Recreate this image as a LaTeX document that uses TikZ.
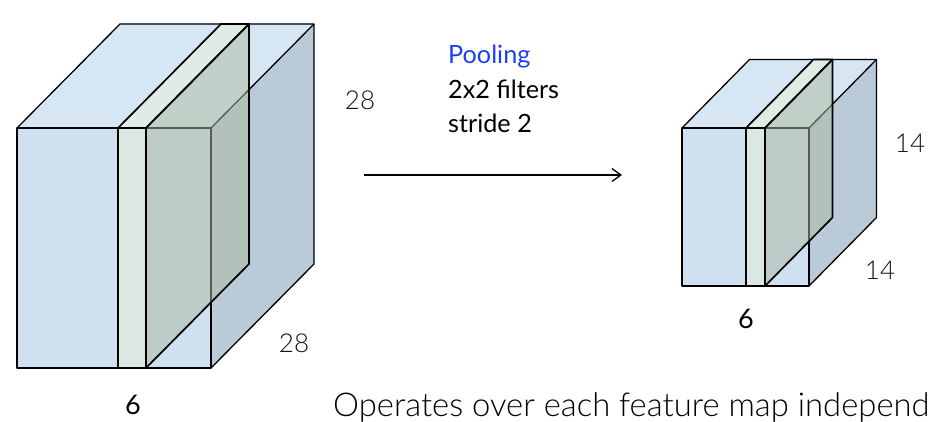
\documentclass[tikz,border=0pt]{standalone}
\usepackage{fontspec}
\setmainfont{Lato}
\newfontfamily\lightfont{Lato Light}
\usetikzlibrary{arrows.meta}
\definecolor{frontc}{RGB}{207,224,241}
\definecolor{topc}{RGB}{215,230,243}
\definecolor{sidec}{RGB}{186,202,216}
\definecolor{slabfront}{RGB}{218,232,225}
\definecolor{slabtop}{RGB}{223,236,229}
\definecolor{slabside}{RGB}{172,186,160}
\definecolor{poolblue}{RGB}{30,64,245}
\definecolor{ink}{RGB}{20,20,20}
\newcommand\mycube[8]{%
  % #1 x0, #2 y0, #3 x1, #4 y1, #5 dx, #6 dy, #7 slab left, #8 slab right
  \fill[frontc] (#1,#2) rectangle (#3,#4);
  \fill[topc] (#1,#2) -- ({#1+#5},{#2-#6}) -- ({#3+#5},{#2-#6}) -- (#3,#2) -- cycle;
  \fill[sidec] (#3,#2) -- ({#3+#5},{#2-#6}) -- ({#3+#5},{#4-#6}) -- (#3,#4) -- cycle;
  \draw[edge] (#1,#2) rectangle (#3,#4);
  \draw[edge] (#1,#2) -- ({#1+#5},{#2-#6}) -- ({#3+#5},{#2-#6}) -- ({#3+#5},{#4-#6}) -- (#3,#4);
  \draw[edge] (#3,#2) -- ({#3+#5},{#2-#6});
  \filldraw[slabedge,fill=slabtop] (#7,#2) -- ({#7+#5},{#2-#6}) -- ({#8+#5},{#2-#6}) -- (#8,#2) -- cycle;
  \filldraw[slabedge,fill=slabfront] (#7,#2) rectangle (#8,#4);
  \fill[slabside,fill opacity=0.5] (#8,#2) -- ({#8+#5},{#2-#6}) -- ({#8+#5},{#4-#6}) -- (#8,#4) -- cycle;
  \draw[slabedge] (#8,#2) -- ({#8+#5},{#2-#6}) -- ({#8+#5},{#4-#6}) -- (#8,#4) -- cycle;
}
\begin{document}
\begin{tikzpicture}[x=1pt,y=-1pt,
  edge/.style={draw=black,line width=1.3pt,line join=round},
  slabedge/.style={draw=black,line width=1.7pt,line join=round},
  dimlbl/.style={font=\lightfont\fontsize{26}{30}\selectfont,text=ink,inner sep=0pt},
  numlbl/.style={font=\fontsize{27}{30}\selectfont,text=black,inner sep=0pt},
  txt/.style={font=\fontsize{25.2}{34}\selectfont,inner sep=0pt,anchor=base west}]
\useasboundingbox (0,0) rectangle (929,422);
\fill[white] (0,0) rectangle (929,422);
% left volume
\mycube{17}{128}{211}{368}{103}{104}{118}{146}
% right volume
\mycube{682}{128}{809}{286}{67.5}{68.5}{746}{765}
% labels
\node[dimlbl] (l28top) at (360,100) {28};
\node[dimlbl] (l28bot) at (294,343) {28};
\node[numlbl] (l6left) at (133,405) {6};
\node[dimlbl] (l14top) at (910,143) {14};
\node[dimlbl] (l14bot) at (880,270) {14};
\node[numlbl] (l6right) at (746,319) {6};
\node[txt,text=poolblue] (tpool) at (448,64) {Pooling};
\node[txt] (tfilt) at (448,99) {2x2 filters};
\node[txt] (tstride) at (448,133) {stride 2};
\node[font=\lightfont\fontsize{32.8}{38}\selectfont,inner sep=0pt,anchor=base west] (tops) at (333,416) {Operates over each feature map independ};
% arrow
\coordinate (as) at (364,175);
\coordinate (ae) at (622,175);
\draw[line width=1.3pt,-{Straight Barb[length=9pt,width=13pt,line width=1.3pt]}] (as) -- (ae);
\end{tikzpicture}
\end{document}
